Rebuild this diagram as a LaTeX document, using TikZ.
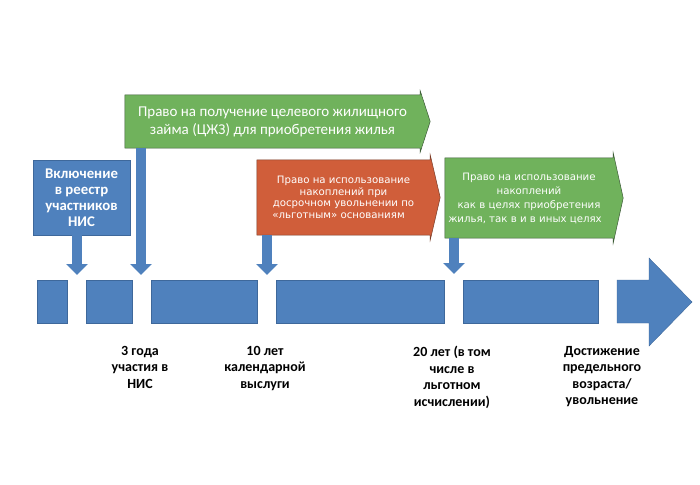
\documentclass[tikz,border=0pt]{standalone}
\usepackage{fontspec}
\setmainfont{Carlito}
\newfontfamily\smallfont{DejaVu Sans}
\usetikzlibrary{arrows.meta,backgrounds,calc}
\definecolor{nblue}{RGB}{79,129,189}
\definecolor{nblueD}{RGB}{62,104,155}
\definecolor{ngreen}{RGB}{112,178,92}
\definecolor{ngreenD}{RGB}{60,90,55}
\definecolor{norange}{RGB}{208,94,58}
\definecolor{norangeD}{RGB}{120,60,40}
\tikzset{
  bar/.style={fill=nblue, draw=nblueD, line width=0.4pt, inner sep=0pt, minimum height=43pt},
  bigtext/.style={inner sep=0pt, align=center, text=white},
  smalltext/.style={inner sep=0pt, align=center, text=white, font=\smallfont\fontsize{10.2}{11.7}\selectfont},
  dnarrow/.style={draw=nblue, line width=10pt, -{Triangle[width=21pt,length=11pt]}},
  lbl/.style={font=\bfseries\fontsize{14}{16.5}\selectfont, align=center, anchor=north, inner sep=0pt},
}
\begin{document}
\begin{tikzpicture}[x=1pt,y=-1pt]
\useasboundingbox (0,0) rectangle (700,484);

% timeline bars
\node[bar, minimum width=30pt]  (b1) at (52,301.5) {};
\node[bar, minimum width=46pt]  (b2) at (109,301.5) {};
\node[bar, minimum width=106pt] (b3) at (204,301.5) {};
\node[bar, minimum width=168pt] (b4) at (360,301.5) {};
\node[bar, minimum width=135pt] (b5) at (530.5,301.5) {};
\fill[nblue, draw=nblueD, line width=0.4pt] (617,280) -- (649,280) -- (649,258) -- (692,302) -- (649,346) -- (649,323) -- (617,323) -- cycle;

% blue box
\node[bigtext, fill=nblue, draw=nblueD, line width=0.4pt, minimum width=97pt, minimum height=75pt,
      font=\bfseries\fontsize{14.8}{16}\selectfont] (incl) at (81.5,197.5)
  {Включение\\в реестр\\участников\\НИС};

% big green callout
\node[bigtext, minimum width=295pt, minimum height=53pt, font=\fontsize{15}{18}\selectfont] (g1) at (272.5,121.5)
  {Право на получение целевого жилищного\\займа (ЦЖЗ) для приобретения жилья};
% orange callout
\node[smalltext, minimum width=173pt, minimum height=75pt] (o1) at (343.5,197.5)
  {Право на использование\\накоплений при\\досрочном увольнении по\\«льготным» основаниям\hspace*{10pt}};
% green callout 2
\node[smalltext, minimum width=168pt, minimum height=80pt, font=\smallfont\fontsize{10.2}{14}\selectfont] (g2) at (529,198)
  {Право на использование\\накоплений\\как в целях приобретения\\жилья, так в и в иных целях\hspace*{8pt}};

\begin{scope}[on background layer]
  \fill[ngreen, draw=ngreenD, line width=0.5pt] (g1.north west) -- (g1.north east) -- ++(0,-4) -- ($(g1.east)+(10,0)$) -- ($(g1.south east)+(0,4)$) -- (g1.south east) -- (g1.south west) -- cycle;
  \fill[norange, draw=norangeD, line width=0.5pt] (o1.north west) -- (o1.north east) -- ++(0,-5) -- ($(o1.east)+(10,0)$) -- ($(o1.south east)+(0,5)$) -- (o1.south east) -- (o1.south west) -- cycle;
  \fill[ngreen, draw=ngreenD, line width=0.5pt] (g2.north west) -- (g2.north east) -- ++(0,-5) -- ($(g2.east)+(10,0)$) -- ($(g2.south east)+(0,5)$) -- (g2.south east) -- (g2.south west) -- cycle;
\end{scope}

% down arrows
\coordinate (t1) at (77,275);
\coordinate (t2) at (141,275);
\coordinate (t3) at (267,275);
\coordinate (t4) at (454,274);
\draw[dnarrow] (incl.south -| t1) -- (t1);
\draw[dnarrow] (g1.south -| t2) -- (t2);
\draw[dnarrow] (o1.south -| t3) -- (t3);
\draw[dnarrow] (g2.south -| t4) -- (t4);

% labels
\node[lbl] (l1) at (140,346) {3 года\\участия в\\НИС};
\node[lbl] (l2) at (265,346) {10 лет\\календарной\\выслуги};
\node[lbl] (l3) at (452,346) {20 лет (в том\\числе в\\льготном\\исчислении)};
\node[lbl] (l4) at (602,346) {Достижение\\предельного\\возраста/\\увольнение};
\end{tikzpicture}
\end{document}
